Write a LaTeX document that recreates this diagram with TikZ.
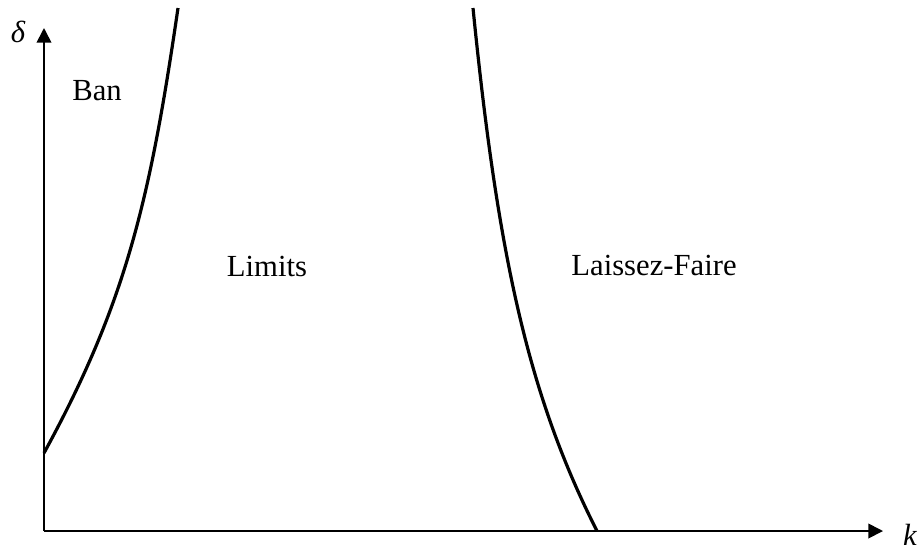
\documentclass[tikz,border=0pt]{standalone}
\usepackage{fontspec}
\setmainfont{Liberation Serif}
\usetikzlibrary{arrows.meta}

\begin{document}
\begin{tikzpicture}[
        x=0.75pt, y=-0.75pt,
        axis/.style={-{Triangle[length=11pt,width=11pt]}, line width=1.3pt, black},
        curve/.style={line width=2.4pt, black},
        region/.style={font=\fontsize{23}{26}\selectfont, anchor=base, inner sep=0pt},
        axlabel/.style={font=\fontsize{23}{26}\selectfont\itshape, inner sep=0pt}
    ]
        \useasboundingbox (0,0) rectangle (923,551);

        % axes
        \coordinate (origin) at (44,531);
        \coordinate (ytop) at (44,28);
        \coordinate (xend) at (883,531);
        \draw[axis] (origin) -- (ytop);
        \draw[axis] (origin) -- (xend);
        \node[axlabel] (delta) at (18,32) {δ};
        \node[axlabel, anchor=base] (kay) at (910,545) {k};

        % boundaries
        \coordinate (banlow) at (44,453);
        \coordinate (bantop) at (178,8);
        \coordinate (lflow) at (597,531);
        \coordinate (lftop) at (473,8);
        \draw[curve] (banlow) .. controls (126,303) and (150,200) .. (bantop);
        \draw[curve] (lftop) .. controls (498,258) and (529,397) .. (lflow);

        \node[region] (ban) at (97,100) {Ban};
        \node[region] (limits) at (267,276) {Limits};
        \node[region] (laissez) at (654,275) {Laissez-Faire};
    \end{tikzpicture}
\end{document}
